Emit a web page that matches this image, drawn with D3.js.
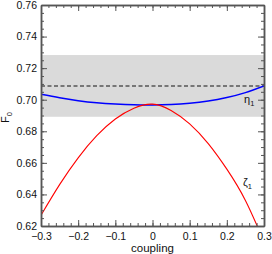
<!DOCTYPE html>
<html><head><meta charset="utf-8">
<script src="https://cdn.jsdelivr.net/npm/d3@7"></script>
<style>body{margin:0;background:#fff}svg{display:block}text{font-family:"Liberation Sans",Arial,sans-serif}</style>
</head><body><svg id="c" width="272" height="254"></svg>
<script>
const coupling = [-0.3,-0.25,-0.2,-0.15,-0.1,-0.05,0,0.05,0.1,0.15,0.2,0.25,0.3];
const eta1 = [0.7034,0.7012,0.6994,0.6981,0.6973,0.6968,0.6967,0.6970,0.6978,0.6992,0.7014,0.7045,0.7087];
const zeta1 = [0.6268,0.6462,0.6632,0.6772,0.6878,0.6946,0.6972,0.6932,0.6847,0.6722,0.6560,0.6362,0.6100];
const band = [0.6892, 0.7283];
const refLine = 0.7087;
const xTicks = [-0.3,-0.2,-0.1,0,0.1,0.2,0.3];
const yTicks = [0.62,0.64,0.66,0.68,0.70,0.72,0.74,0.76];

const W=272,H=254,m={l:41,r:8,t:5,b:28};
const svg=d3.select("#c");
const x=d3.scaleLinear().domain([-0.3,0.3]).range([m.l,W-m.r]);
const y=d3.scaleLinear().domain([0.62,0.76]).range([H-m.b,m.t]);
svg.append("defs").append("clipPath").attr("id","cp").append("rect")
  .attr("x",m.l).attr("y",m.t).attr("width",W-m.l-m.r).attr("height",H-m.t-m.b);
const g=svg.append("g").attr("clip-path","url(#cp)");
g.append("rect").attr("x",x(-0.3)).attr("width",x(0.3)-x(-0.3))
  .attr("y",y(band[1])).attr("height",y(band[0])-y(band[1])).attr("fill","#dadada");
g.append("line").attr("x1",x(-0.3)).attr("x2",x(0.3)).attr("y1",y(refLine)).attr("y2",y(refLine))
  .attr("stroke","#555").attr("stroke-width",1.3).attr("stroke-dasharray","4,2.5");
const mk=vals=>d3.line().x((d,i)=>x(coupling[i])).y(d=>y(d)).curve(d3.curveNatural)(vals);
g.append("path").attr("d",mk(eta1)).attr("fill","none").attr("stroke","#0000ff").attr("stroke-width",1.5);
g.append("path").attr("d",mk(zeta1)).attr("fill","none").attr("stroke","#ff0000").attr("stroke-width",1.1);

const xMinor=d3.range(-0.3,0.3001,0.02), yMinor=d3.range(0.62,0.7601,0.005);
const ac="#555", fs="10.5px";
function ax(gen, tr, vals, size, labels){
  const a=svg.append("g").attr("transform",tr).call(gen.tickValues(vals).tickSize(size).tickSizeOuter(0));
  if(!labels) a.selectAll("text").remove();
  a.selectAll("line").attr("stroke",ac).attr("stroke-width",1);
  a.select(".domain").attr("stroke",ac).attr("stroke-width",1.5);
  a.selectAll("text").attr("fill","#111").style("font-size",fs);
  return a;
}
const B=`translate(0,${H-m.b})`, T=`translate(0,${m.t})`, L=`translate(${m.l},0)`, R=`translate(${W-m.r},0)`;
ax(d3.axisBottom(x),B,xMinor,-3,false);
ax(d3.axisBottom(x).tickPadding(7).tickFormat(d=>d===0?"0":d3.format(".1f")(d)),B,xTicks,-6,true);
ax(d3.axisTop(x),T,xMinor,-3,false);
ax(d3.axisTop(x),T,xTicks,-6,false);
ax(d3.axisLeft(y),L,yMinor,-3,false);
ax(d3.axisLeft(y).tickPadding(4).tickFormat(d3.format(".2f")),L,yTicks,-6,true);
ax(d3.axisRight(y),R,yMinor,-3,false);
ax(d3.axisRight(y),R,yTicks,-6,false);

svg.append("text").attr("x",(m.l+W-m.r)/2).attr("y",252).attr("text-anchor","middle")
  .style("font-size","11.5px").attr("fill","#111").text("coupling");
const fl=svg.append("text").attr("transform",`translate(9,${(m.t+H-m.b)/2+2}) rotate(-90)`)
  .attr("text-anchor","middle").style("font-size","11px").attr("fill","#111");
fl.append("tspan").text("F");
fl.append("tspan").attr("dy",3).style("font-size","7.5px").text("0");
const e=svg.append("text").attr("x",244).attr("y",103).style("font-size","11px").attr("fill","#111");
e.append("tspan").text("η");
e.append("tspan").attr("dy",2.5).style("font-size","7.5px").text("1");
const z=svg.append("text").attr("x",243).attr("y",186).style("font-size","11px").attr("fill","#111");
z.append("tspan").text("ζ");
z.append("tspan").attr("dy",2.5).style("font-size","7.5px").text("1");
</script></body></html>
